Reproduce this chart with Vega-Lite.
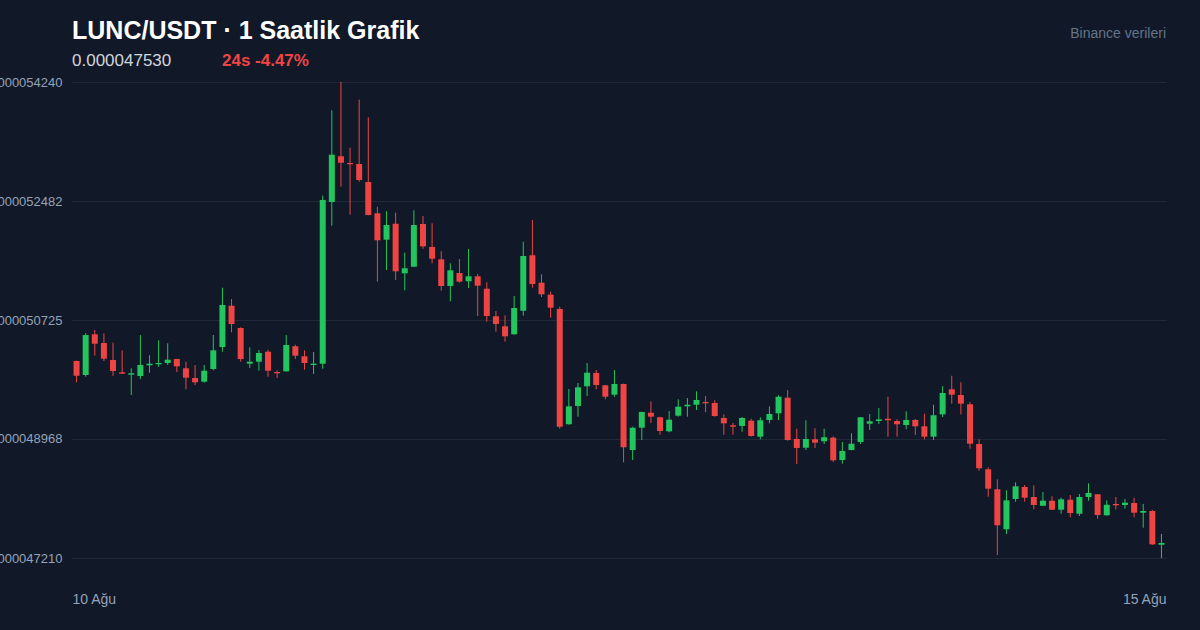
{
  "$schema": "https://vega.github.io/schema/vega-lite/v6.json",
  "autosize": {"type": "none"},
  "width": 1094,
  "height": 476,
  "padding": {"left": 72, "top": 82, "right": 34, "bottom": 72},
  "background": "#111827",
  "data": {
    "values": [
      {"bar": 0, "open": 0.000050120, "high": 0.000050125, "low": 0.000049805, "close": 0.000049902},
      {"bar": 1, "open": 0.000049913, "high": 0.000050529, "low": 0.000049888, "close": 0.000050503},
      {"bar": 2, "open": 0.000050514, "high": 0.000050577, "low": 0.000050198, "close": 0.000050375},
      {"bar": 3, "open": 0.000050385, "high": 0.000050529, "low": 0.000050120, "close": 0.000050153},
      {"bar": 4, "open": 0.000050134, "high": 0.000050390, "low": 0.000049902, "close": 0.000049972},
      {"bar": 5, "open": 0.000049953, "high": 0.000050277, "low": 0.000049930, "close": 0.000049932},
      {"bar": 6, "open": 0.000049917, "high": 0.000050012, "low": 0.000049617, "close": 0.000049938},
      {"bar": 7, "open": 0.000049898, "high": 0.000050503, "low": 0.000049854, "close": 0.000050060},
      {"bar": 8, "open": 0.000050056, "high": 0.000050204, "low": 0.000049947, "close": 0.000050080},
      {"bar": 9, "open": 0.000050071, "high": 0.000050425, "low": 0.000050035, "close": 0.000050090},
      {"bar": 10, "open": 0.000050090, "high": 0.000050381, "low": 0.000050060, "close": 0.000050139},
      {"bar": 11, "open": 0.000050149, "high": 0.000050150, "low": 0.000049957, "close": 0.000050041},
      {"bar": 12, "open": 0.000050012, "high": 0.000050109, "low": 0.000049702, "close": 0.000049873},
      {"bar": 13, "open": 0.000049868, "high": 0.000050060, "low": 0.000049765, "close": 0.000049805},
      {"bar": 14, "open": 0.000049814, "high": 0.000050060, "low": 0.000049799, "close": 0.000049976},
      {"bar": 15, "open": 0.000050001, "high": 0.000050503, "low": 0.000049982, "close": 0.000050277},
      {"bar": 16, "open": 0.000050326, "high": 0.000051202, "low": 0.000050257, "close": 0.000050947},
      {"bar": 17, "open": 0.000050936, "high": 0.000051035, "low": 0.000050543, "close": 0.000050666},
      {"bar": 18, "open": 0.000050607, "high": 0.000050617, "low": 0.000050109, "close": 0.000050149},
      {"bar": 19, "open": 0.000050080, "high": 0.000050322, "low": 0.000050016, "close": 0.000050109},
      {"bar": 20, "open": 0.000050109, "high": 0.000050282, "low": 0.000049976, "close": 0.000050238},
      {"bar": 21, "open": 0.000050257, "high": 0.000050286, "low": 0.000049888, "close": 0.000049976},
      {"bar": 22, "open": 0.000049957, "high": 0.000049982, "low": 0.000049868, "close": 0.000049938},
      {"bar": 23, "open": 0.000049967, "high": 0.000050503, "low": 0.000049962, "close": 0.000050356},
      {"bar": 24, "open": 0.000050337, "high": 0.000050360, "low": 0.000050149, "close": 0.000050198},
      {"bar": 25, "open": 0.000050189, "high": 0.000050277, "low": 0.000049991, "close": 0.000050090},
      {"bar": 26, "open": 0.000050060, "high": 0.000050252, "low": 0.000049928, "close": 0.000050080},
      {"bar": 27, "open": 0.000050080, "high": 0.000052561, "low": 0.000050006, "close": 0.000052497},
      {"bar": 28, "open": 0.000052468, "high": 0.000053822, "low": 0.000052118, "close": 0.000053166},
      {"bar": 29, "open": 0.000053143, "high": 0.000054240, "low": 0.000052694, "close": 0.000053048},
      {"bar": 30, "open": 0.000053044, "high": 0.000053270, "low": 0.000052280, "close": 0.000053025},
      {"bar": 31, "open": 0.000053029, "high": 0.000053979, "low": 0.000052768, "close": 0.000052793},
      {"bar": 32, "open": 0.000052763, "high": 0.000053719, "low": 0.000052270, "close": 0.000052276},
      {"bar": 33, "open": 0.000052301, "high": 0.000052398, "low": 0.000051291, "close": 0.000051902},
      {"bar": 34, "open": 0.000051911, "high": 0.000052330, "low": 0.000051463, "close": 0.000052128},
      {"bar": 35, "open": 0.000052147, "high": 0.000052310, "low": 0.000051316, "close": 0.000051444},
      {"bar": 36, "open": 0.000051415, "high": 0.000051719, "low": 0.000051164, "close": 0.000051489},
      {"bar": 37, "open": 0.000051512, "high": 0.000052345, "low": 0.000051505, "close": 0.000052128},
      {"bar": 38, "open": 0.000052143, "high": 0.000052261, "low": 0.000051778, "close": 0.000051813},
      {"bar": 39, "open": 0.000051803, "high": 0.000052153, "low": 0.000051562, "close": 0.000051630},
      {"bar": 40, "open": 0.000051621, "high": 0.000051740, "low": 0.000051158, "close": 0.000051227},
      {"bar": 41, "open": 0.000051227, "high": 0.000051562, "low": 0.000051001, "close": 0.000051459},
      {"bar": 42, "open": 0.000051419, "high": 0.000051626, "low": 0.000051276, "close": 0.000051291},
      {"bar": 43, "open": 0.000051297, "high": 0.000051774, "low": 0.000051198, "close": 0.000051370},
      {"bar": 44, "open": 0.000051370, "high": 0.000051404, "low": 0.000050784, "close": 0.000051232},
      {"bar": 45, "open": 0.000051187, "high": 0.000051282, "low": 0.000050700, "close": 0.000050784},
      {"bar": 46, "open": 0.000050780, "high": 0.000050858, "low": 0.000050552, "close": 0.000050666},
      {"bar": 47, "open": 0.000050632, "high": 0.000050794, "low": 0.000050405, "close": 0.000050484},
      {"bar": 48, "open": 0.000050514, "high": 0.000051080, "low": 0.000050510, "close": 0.000050902},
      {"bar": 49, "open": 0.000050862, "high": 0.000051881, "low": 0.000050789, "close": 0.000051670},
      {"bar": 50, "open": 0.000051681, "high": 0.000052202, "low": 0.000051202, "close": 0.000051257},
      {"bar": 51, "open": 0.000051276, "high": 0.000051400, "low": 0.000051065, "close": 0.000051105},
      {"bar": 52, "open": 0.000051099, "high": 0.000051143, "low": 0.000050759, "close": 0.000050907},
      {"bar": 53, "open": 0.000050888, "high": 0.000050921, "low": 0.000049120, "close": 0.000049149},
      {"bar": 54, "open": 0.000049185, "high": 0.000049706, "low": 0.000049180, "close": 0.000049450},
      {"bar": 55, "open": 0.000049455, "high": 0.000049795, "low": 0.000049297, "close": 0.000049731},
      {"bar": 56, "open": 0.000049746, "high": 0.000050090, "low": 0.000049603, "close": 0.000049947},
      {"bar": 57, "open": 0.000049942, "high": 0.000049987, "low": 0.000049702, "close": 0.000049765},
      {"bar": 58, "open": 0.000049761, "high": 0.000049765, "low": 0.000049554, "close": 0.000049592},
      {"bar": 59, "open": 0.000049622, "high": 0.000049987, "low": 0.000049592, "close": 0.000049780},
      {"bar": 60, "open": 0.000049780, "high": 0.000049785, "low": 0.000048623, "close": 0.000048845},
      {"bar": 61, "open": 0.000048805, "high": 0.000049149, "low": 0.000048657, "close": 0.000049134},
      {"bar": 62, "open": 0.000049134, "high": 0.000049371, "low": 0.000048953, "close": 0.000049366},
      {"bar": 63, "open": 0.000049356, "high": 0.000049524, "low": 0.000049204, "close": 0.000049297},
      {"bar": 64, "open": 0.000049288, "high": 0.000049297, "low": 0.000049031, "close": 0.000049086},
      {"bar": 65, "open": 0.000049081, "high": 0.000049381, "low": 0.000049067, "close": 0.000049253},
      {"bar": 66, "open": 0.000049312, "high": 0.000049554, "low": 0.000049297, "close": 0.000049445},
      {"bar": 67, "open": 0.000049450, "high": 0.000049573, "low": 0.000049297, "close": 0.000049474},
      {"bar": 68, "open": 0.000049474, "high": 0.000049672, "low": 0.000049396, "close": 0.000049544},
      {"bar": 69, "open": 0.000049514, "high": 0.000049603, "low": 0.000049362, "close": 0.000049495},
      {"bar": 70, "open": 0.000049499, "high": 0.000049539, "low": 0.000049297, "close": 0.000049307},
      {"bar": 71, "open": 0.000049278, "high": 0.000049332, "low": 0.000049031, "close": 0.000049199},
      {"bar": 72, "open": 0.000049170, "high": 0.000049204, "low": 0.000049031, "close": 0.000049149},
      {"bar": 73, "open": 0.000049160, "high": 0.000049292, "low": 0.000049075, "close": 0.000049278},
      {"bar": 74, "open": 0.000049238, "high": 0.000049267, "low": 0.000049002, "close": 0.000049012},
      {"bar": 75, "open": 0.000049002, "high": 0.000049288, "low": 0.000048963, "close": 0.000049244},
      {"bar": 76, "open": 0.000049248, "high": 0.000049450, "low": 0.000049199, "close": 0.000049337},
      {"bar": 77, "open": 0.000049347, "high": 0.000049613, "low": 0.000049248, "close": 0.000049592},
      {"bar": 78, "open": 0.000049578, "high": 0.000049691, "low": 0.000048942, "close": 0.000048953},
      {"bar": 79, "open": 0.000048968, "high": 0.000049120, "low": 0.000048598, "close": 0.000048835},
      {"bar": 80, "open": 0.000048839, "high": 0.000049244, "low": 0.000048805, "close": 0.000048968},
      {"bar": 81, "open": 0.000048963, "high": 0.000049126, "low": 0.000048835, "close": 0.000048913},
      {"bar": 82, "open": 0.000048934, "high": 0.000049120, "low": 0.000048894, "close": 0.000048993},
      {"bar": 83, "open": 0.000048987, "high": 0.000049007, "low": 0.000048628, "close": 0.000048653},
      {"bar": 84, "open": 0.000048657, "high": 0.000048923, "low": 0.000048603, "close": 0.000048790},
      {"bar": 85, "open": 0.000048805, "high": 0.000049052, "low": 0.000048800, "close": 0.000048898},
      {"bar": 86, "open": 0.000048923, "high": 0.000049292, "low": 0.000048894, "close": 0.000049288},
      {"bar": 87, "open": 0.000049193, "high": 0.000049337, "low": 0.000049100, "close": 0.000049229},
      {"bar": 88, "open": 0.000049233, "high": 0.000049425, "low": 0.000049189, "close": 0.000049258},
      {"bar": 89, "open": 0.000049267, "high": 0.000049592, "low": 0.000049002, "close": 0.000049244},
      {"bar": 90, "open": 0.000049233, "high": 0.000049258, "low": 0.000049002, "close": 0.000049185},
      {"bar": 91, "open": 0.000049174, "high": 0.000049377, "low": 0.000049111, "close": 0.000049248},
      {"bar": 92, "open": 0.000049248, "high": 0.000049263, "low": 0.000049027, "close": 0.000049155},
      {"bar": 93, "open": 0.000049155, "high": 0.000049341, "low": 0.000048963, "close": 0.000049002},
      {"bar": 94, "open": 0.000049002, "high": 0.000049474, "low": 0.000048953, "close": 0.000049318},
      {"bar": 95, "open": 0.000049332, "high": 0.000049750, "low": 0.000049292, "close": 0.000049647},
      {"bar": 96, "open": 0.000049702, "high": 0.000049902, "low": 0.000049489, "close": 0.000049622},
      {"bar": 97, "open": 0.000049617, "high": 0.000049805, "low": 0.000049332, "close": 0.000049489},
      {"bar": 98, "open": 0.000049480, "high": 0.000049510, "low": 0.000048824, "close": 0.000048898},
      {"bar": 99, "open": 0.000048894, "high": 0.000048963, "low": 0.000048499, "close": 0.000048535},
      {"bar": 100, "open": 0.000048520, "high": 0.000048550, "low": 0.000048115, "close": 0.000048234},
      {"bar": 101, "open": 0.000048225, "high": 0.000048372, "low": 0.000047254, "close": 0.000047693},
      {"bar": 102, "open": 0.000047634, "high": 0.000048210, "low": 0.000047565, "close": 0.000048062},
      {"bar": 103, "open": 0.000048081, "high": 0.000048328, "low": 0.000048042, "close": 0.000048269},
      {"bar": 104, "open": 0.000048259, "high": 0.000048288, "low": 0.000048042, "close": 0.000048101},
      {"bar": 105, "open": 0.000048111, "high": 0.000048284, "low": 0.000047929, "close": 0.000047993},
      {"bar": 106, "open": 0.000047982, "high": 0.000048185, "low": 0.000047978, "close": 0.000048056},
      {"bar": 107, "open": 0.000048056, "high": 0.000048121, "low": 0.000047920, "close": 0.000047923},
      {"bar": 108, "open": 0.000047923, "high": 0.000048101, "low": 0.000047864, "close": 0.000048077},
      {"bar": 109, "open": 0.000048071, "high": 0.000048140, "low": 0.000047811, "close": 0.000047875},
      {"bar": 110, "open": 0.000047864, "high": 0.000048155, "low": 0.000047830, "close": 0.000048111},
      {"bar": 111, "open": 0.000048111, "high": 0.000048313, "low": 0.000048056, "close": 0.000048170},
      {"bar": 112, "open": 0.000048151, "high": 0.000048155, "low": 0.000047790, "close": 0.000047845},
      {"bar": 113, "open": 0.000047841, "high": 0.000048062, "low": 0.000047836, "close": 0.000047997},
      {"bar": 114, "open": 0.000048008, "high": 0.000048111, "low": 0.000047929, "close": 0.000047988},
      {"bar": 115, "open": 0.000047993, "high": 0.000048081, "low": 0.000047938, "close": 0.000048027},
      {"bar": 116, "open": 0.000048022, "high": 0.000048101, "low": 0.000047811, "close": 0.000047879},
      {"bar": 117, "open": 0.000047879, "high": 0.000048008, "low": 0.000047657, "close": 0.000047904},
      {"bar": 118, "open": 0.000047904, "high": 0.000047919, "low": 0.000047402, "close": 0.000047412},
      {"bar": 119, "open": 0.000047406, "high": 0.000047565, "low": 0.000047210, "close": 0.000047432}
    ]
  },
  "encoding": {
    "x": {
      "field": "bar",
      "type": "quantitative",
      "scale": {"domain": [-0.5, 119.5], "nice": false, "zero": false, "padding": 0},
      "axis": {
        "values": [-0.5, 119.5],
        "labelExpr": "datum.value < 50 ? '10 Ağu' : '15 Ağu'",
        "labelFlush": true,
        "labelFont": "Liberation Sans",
        "labelFontSize": 14,
        "labelColor": "#94a3b8",
        "labelPadding": 34,
        "domain": false,
        "ticks": false,
        "grid": false,
        "title": null
      }
    },
    "y": {
      "type": "quantitative",
      "scale": {"domain": [0.00004721, 0.00005424], "nice": false, "zero": false},
      "axis": {
        "values": [0.00004721, 0.000048968, 0.000050725, 0.000052482, 0.00005424],
        "format": ".9f",
        "labelFont": "Liberation Sans",
        "labelFontSize": 13,
        "labelColor": "#94a3b8",
        "labelPadding": 10,
        "domain": false,
        "ticks": false,
        "gridColor": "#1f2937",
        "gridWidth": 1,
        "title": null
      }
    },
    "color": {
      "condition": {"test": "datum.close >= datum.open", "value": "#22c55e"},
      "value": "#ef4444"
    }
  },
  "layer": [
    {
      "mark": {"type": "rule", "strokeWidth": 1},
      "encoding": {
        "y": {"field": "low"},
        "y2": {"field": "high"}
      }
    },
    {
      "mark": {"type": "bar", "size": 6},
      "encoding": {
        "y": {"field": "open"},
        "y2": {"field": "close"}
      }
    },
    {
      "data": {"values": [{"label": "LUNC/USDT · 1 Saatlik Grafik", "pos": -0.5, "level": 0.000054875}]},
      "mark": {"type": "text", "clip": false, "align": "left", "baseline": "alphabetic", "font": "Liberation Sans", "fontSize": 25, "fontWeight": "bold"},
      "encoding": {
        "x": {"field": "pos"},
        "y": {"field": "level"},
        "text": {"field": "label", "type": "nominal"},
        "color": {"value": "#ffffff"}
      }
    },
    {
      "data": {"values": [{"label": "0.000047530", "pos": -0.5, "level": 0.000054476}]},
      "mark": {"type": "text", "clip": false, "align": "left", "baseline": "alphabetic", "font": "Liberation Sans", "fontSize": 17},
      "encoding": {
        "x": {"field": "pos"},
        "y": {"field": "level"},
        "text": {"field": "label", "type": "nominal"},
        "color": {"value": "#d1d5db"}
      }
    },
    {
      "data": {"values": [{"label": "24s -4.47%", "pos": 15.95, "level": 0.000054476}]},
      "mark": {"type": "text", "clip": false, "align": "left", "baseline": "alphabetic", "font": "Liberation Sans", "fontSize": 17, "fontWeight": "bold"},
      "encoding": {
        "x": {"field": "pos"},
        "y": {"field": "level"},
        "text": {"field": "label", "type": "nominal"},
        "color": {"value": "#ef4444"}
      }
    },
    {
      "data": {"values": [{"label": "Binance verileri", "pos": 119.5, "level": 0.00005489}]},
      "mark": {"type": "text", "clip": false, "align": "right", "baseline": "alphabetic", "font": "Liberation Sans", "fontSize": 14},
      "encoding": {
        "x": {"field": "pos"},
        "y": {"field": "level"},
        "text": {"field": "label", "type": "nominal"},
        "color": {"value": "#64748b"}
      }
    }
  ],
  "config": {
    "view": {"stroke": null}
  }
}
